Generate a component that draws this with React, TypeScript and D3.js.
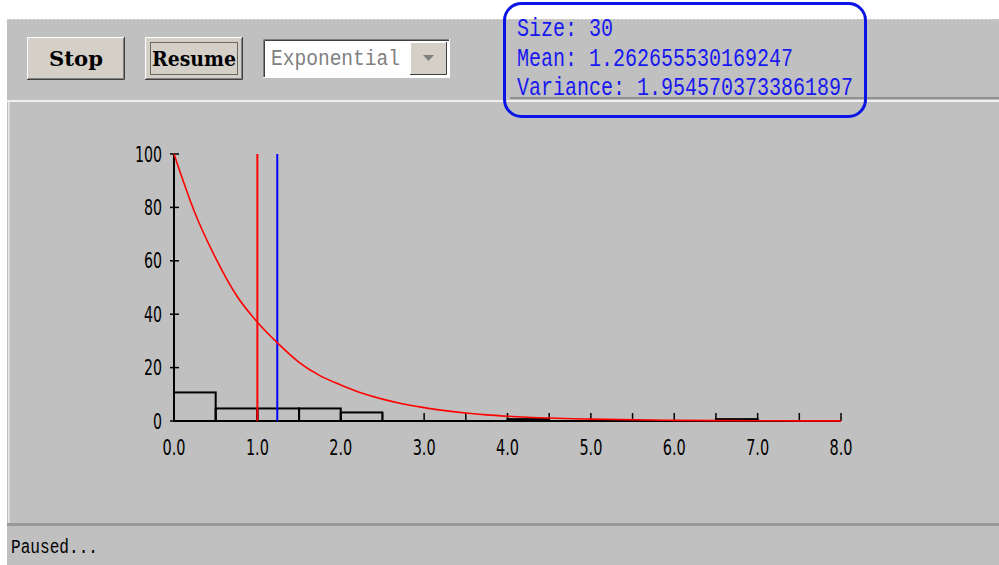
import React from "react";
import * as d3 from "d3";

// ---- data ----
const yTickValues = [0, 20, 40, 60, 80, 100];
const xTickValues = [0, 0.5, 1, 1.5, 2, 2.5, 3, 3.5, 4, 4.5, 5, 5.5, 6, 6.5, 7, 7.5, 8];
const xTickLabels = ["0.0", "1.0", "2.0", "3.0", "4.0", "5.0", "6.0", "7.0", "8.0"];
const xLabelValues = [0, 1, 2, 3, 4, 5, 6, 7, 8];
const binStarts = [0, 0.5, 1, 1.5, 2, 2.5, 3, 3.5, 4, 4.5, 5, 5.5, 6, 6.5, 7, 7.5];
const binHeights = [10.7, 4.7, 4.7, 4.7, 3.2, 0, 0, 0, 0.7, 0, 0, 0, 0, 0.7, 0, 0];
const binWidth = 0.5;
const curveX = [0, 0.25, 0.5, 0.75, 1, 1.25, 1.5, 1.75, 2, 2.25, 2.5, 2.75, 3, 3.25, 3.5, 3.75, 4, 4.5, 5, 6, 7, 8];
const curveY = [100, 78, 61, 47, 37, 29, 22, 17, 13.5, 10.5, 8.2, 6.4, 5, 3.9, 3, 2.3, 1.8, 1.1, 0.7, 0.25, 0.1, 0.03];
const theoreticalMean = 1.0;
const sampleMean = 1.262655530169247;
const statLines = ["Size: 30", "Mean: 1.262655530169247", "Variance: 1.9545703733861897"];
const buttonLabels = ["Stop", "Resume"];
const comboLabel = "Exponential";
const statusText = "Paused...";

const W = 999;
const H = 565;
const GRAY = "#c0c0c0";
const FACE = "#d4d0c8";

export default function App() {
  const x = d3.scaleLinear().domain([0, 8]).range([174, 841]);
  const y = d3.scaleLinear().domain([0, 100]).range([421, 154]);
  const line = d3
    .line<number>()
    .x((_, i) => x(curveX[i]))
    .y((d) => y(d))
    .curve(d3.curveMonotoneX);

  const tickFont = "'Liberation Sans Narrow', 'DejaVu Sans Condensed', 'Arial Narrow', sans-serif";
  const monoFont = "'Liberation Mono', 'DejaVu Sans Mono', monospace";

  const Button = ({ x0, label, focus, tl }: { x0: number; label: string; focus: boolean; tl: number }) => {
    const bx = x0, by = 37, bw = 98, bh = 43;
    return (
      <g>
        <rect x={bx} y={by} width={bw} height={bh} fill={FACE} />
        <path d={`M${bx + 0.5},${by + bh} V${by + 0.5} H${bx + bw}`} stroke="#ffffff" strokeWidth={1} fill="none" />
        <path d={`M${bx},${by + bh - 0.5} H${bx + bw - 0.5} V${by}`} stroke="#404040" strokeWidth={1} fill="none" />
        <path d={`M${bx + 1},${by + bh - 1.5} H${bx + bw - 1.5} V${by + 1}`} stroke="#808080" strokeWidth={1} fill="none" />
        {focus && (
          <rect x={bx + 5.5} y={by + 5.5} width={bw - 11} height={bh - 11} fill="none" stroke="#000" strokeWidth={1} strokeDasharray="1,1" />
        )}
        <text
          x={bx + bw / 2}
          y={by + 29}
          textAnchor="middle"
          fontFamily="'DejaVu Serif', serif"
          fontWeight="bold"
          fontSize={20}
          textLength={tl}
          lengthAdjust="spacingAndGlyphs"
          fill="#000"
        >
          {label}
        </text>
      </g>
    );
  };

  return (
    <div style={{ position: "absolute", left: 0, top: 0 }}>
      <svg width={W} height={H} style={{ display: "block" }}>
        <rect x={0} y={0} width={W} height={H} fill="#ffffff" />
        <rect x={7} y={19} width={W - 7} height={H - 19} fill={GRAY} />
        <line x1={7} x2={W} y1={19.5} y2={19.5} stroke="#d8d8cc" strokeDasharray="2,2" />

        {/* toolbar */}
        <Button x0={27} label={buttonLabels[0]} focus={false} tl={54} />
        <Button x0={145} label={buttonLabels[1]} focus={true} tl={84} />

        {/* combo */}
        <g>
          <rect x={263} y={39} width={187} height={39} fill="#ffffff" />
          <path d="M263.5,78 V39.5 H450" stroke="#808080" fill="none" />
          <path d="M264.5,77 V40.5 H449" stroke="#404040" fill="none" />
          <path d="M263,77.5 H449.5 V39" stroke="#ffffff" fill="none" />
          <text x={271} y={65} fontFamily={monoFont} fontSize={22} fill="#808080" textLength={129} lengthAdjust="spacingAndGlyphs">
            {comboLabel}
          </text>
          <rect x={410} y={42} width={37} height={33} fill={FACE} />
          <path d="M410.5,75 V42.5 H447" stroke="#ffffff" fill="none" />
          <path d="M410,74.5 H446.5 V42" stroke="#404040" fill="none" />
          <path d="M423,55 H434 L428.5,61 Z" fill="#808080" />
        </g>

        {/* stats */}
        {statLines.map((s, i) => (
          <text
            key={i}
            x={517}
            y={36 + i * 29.5}
            fontFamily={monoFont}
            fontSize={25}
            fill="#1818f0"
            textLength={s.length * 12}
            lengthAdjust="spacingAndGlyphs"
          >
            {s}
          </text>
        ))}

        {/* separators */}
        <rect x={510} y={97} width={W - 510} height={2} fill="#909090" />
        <rect x={7} y={100} width={W - 7} height={2} fill="#f0f0f0" />
        <rect x={8} y={102} width={1.5} height={421} fill="#e8e8e8" />
        <rect x={7} y={523} width={W - 7} height={3} fill="#989898" />

        {/* histogram bars */}
        {binStarts.map((b, i) =>
          binHeights[i] > 0 ? (
            <rect
              key={i}
              x={x(b)}
              y={y(binHeights[i])}
              width={x(b + binWidth) - x(b)}
              height={y(0) - y(binHeights[i])}
              fill="none"
              stroke="#000"
              strokeWidth={2}
            />
          ) : null
        )}

        {/* axes */}
        <line x1={x(0)} x2={x(0)} y1={y(100)} y2={y(0)} stroke="#000" strokeWidth={2} />
        <line x1={x(0)} x2={x(8)} y1={y(0)} y2={y(0)} stroke="#000" strokeWidth={2} />
        {yTickValues.map((v) => (
          <g key={v}>
            <line x1={x(0) - 4} x2={x(0) + 5} y1={y(v)} y2={y(v)} stroke="#000" strokeWidth={1.5} />
            <text
              x={162}
              y={y(v) + 7.5}
              textAnchor="end"
              fontFamily={tickFont}
              fontSize={21}
              fill="#000"
              textLength={String(v).length * 9}
              lengthAdjust="spacingAndGlyphs"
            >
              {v}
            </text>
          </g>
        ))}
        {xTickValues.map((v) => (
          <line key={v} x1={x(v)} x2={x(v)} y1={y(0) - 8} y2={y(0)} stroke="#000" strokeWidth={1.5} />
        ))}
        {xLabelValues.map((v, i) => (
          <text
            key={v}
            x={x(v)}
            y={455}
            textAnchor="middle"
            fontFamily={tickFont}
            fontSize={21}
            fill="#000"
            textLength={23}
            lengthAdjust="spacingAndGlyphs"
          >
            {xTickLabels[i]}
          </text>
        ))}

        {/* mean lines */}
        <line x1={x(theoreticalMean)} x2={x(theoreticalMean)} y1={y(100)} y2={y(0)} stroke="#ff0000" strokeWidth={2} />
        <line x1={x(sampleMean) - 2} x2={x(sampleMean) - 2} y1={y(100)} y2={y(0)} stroke="#0000ff" strokeWidth={2} />

        {/* density curve */}
        <path d={line(curveY) || ""} fill="none" stroke="#ff0000" strokeWidth={1.6} />

        {/* status */}
        <text x={11} y={553} fontFamily={monoFont} fontSize={20} fill="#000" textLength={87} lengthAdjust="spacingAndGlyphs">
          {statusText}
        </text>

        {/* highlight box */}
        <rect x={504.5} y={3.5} width={361} height={113} rx={17} ry={17} fill="none" stroke="#0a14e6" strokeWidth={3} />
      </svg>
    </div>
  );
}
